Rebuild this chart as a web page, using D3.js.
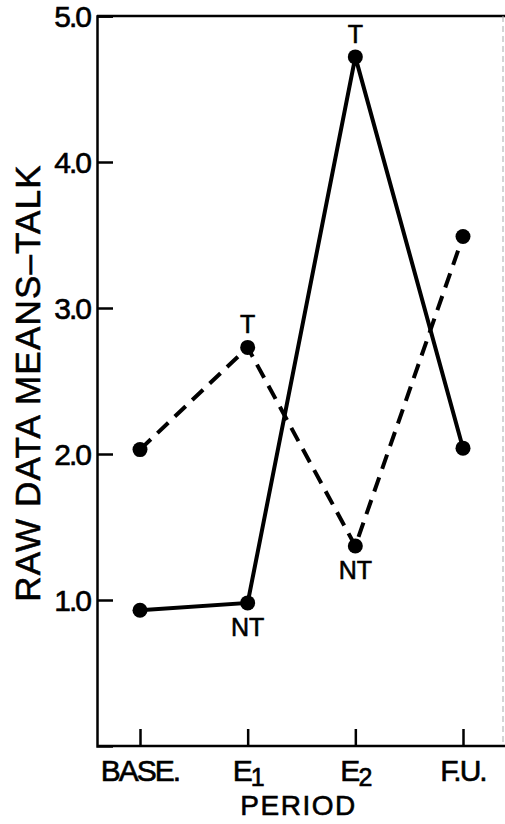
<!DOCTYPE html>
<html>
<head>
<meta charset="utf-8">
<script src="https://cdn.jsdelivr.net/npm/d3@7"></script>
<style>
  html, body { margin: 0; padding: 0; background: #fff; }
  svg { display: block; }
  text { font-family: 'Liberation Sans', Arial, sans-serif; fill: #000; stroke: #000; stroke-width: 0.6px; }
</style>
</head>
<body>
<div id="chart"></div>
<script>
// periods along the x axis
const periods = ['BASE.', 'E1', 'E2', 'F.U.']
// solid line
const solidValues = [0.93, 0.98, 4.72, 2.04]
// dashed line
const dashedValues = [2.03, 2.73, 1.37, 3.49]
const yTicks = [1, 2, 3, 4, 5]
// point annotations: series, period index, text, placement
const notes = [
  { series: 'dashed', i: 1, text: 'T', pos: 'above' },
  { series: 'solid', i: 1, text: 'NT', pos: 'below' },
  { series: 'solid', i: 2, text: 'T', pos: 'above' },
  { series: 'dashed', i: 2, text: 'NT', pos: 'below' },
]

const width = 505
const height = 824
const margin = { top: 16, right: 2, bottom: 78, left: 97 }

const svg = d3.select('#chart').append('svg')
  .attr('width', width)
  .attr('height', height)

const x = d3.scalePoint()
  .domain(periods)
  .range([margin.left + 43, margin.left + 366])

const y = d3.scaleLinear()
  .domain([0, 5])
  .range([height - margin.bottom, margin.top])

// frame
svg.append('line')
  .attr('x1', margin.left).attr('x2', width)
  .attr('y1', margin.top).attr('y2', margin.top)
  .attr('stroke', '#000').attr('stroke-width', 2.5)
svg.append('line')
  .attr('x1', width - margin.right).attr('x2', width - margin.right)
  .attr('y1', margin.top).attr('y2', height - margin.bottom)
  .attr('stroke', '#aaa').attr('stroke-width', 1).attr('stroke-dasharray', '6,4')

// y axis, ticks point into the plot
const yAxis = svg.append('g')
  .attr('transform', `translate(${margin.left},0)`)
  .call(d3.axisRight(y).tickValues(yTicks).tickSize(16).tickFormat(d3.format('.1f')))
yAxis.select('.domain').attr('stroke-width', 2.5)
yAxis.selectAll('.tick line').attr('stroke-width', 2.5)
yAxis.selectAll('.tick text')
  .attr('x', -7)
  .attr('text-anchor', 'end')
  .attr('dy', '0.36em')
  .style('font-size', '30px')
  .style('letter-spacing', '-2px')

// x axis, ticks point up into the plot
const xAxis = svg.append('g')
  .attr('transform', `translate(0,${height - margin.bottom})`)
  .call(d3.axisTop(x).tickSize(17).tickFormat(''))
xAxis.select('.domain').attr('d', `M${margin.left},0H${width}`).attr('stroke-width', 2.5)
xAxis.selectAll('.tick line').attr('stroke-width', 2.5)

const xl = svg.append('g')
  .selectAll('text')
  .data(periods)
  .join('text')
  .attr('x', (d) => x(d))
  .attr('y', height - margin.bottom + 35)
  .attr('text-anchor', 'middle')
  .style('font-size', '30px')
  .style('letter-spacing', '-2px')
xl.each(function (d) {
  const t = d3.select(this)
  if (d[0] === 'E') {
    t.append('tspan').text('E')
    t.append('tspan').attr('dy', 5).style('font-size', '25px').text(d.slice(1))
  } else {
    t.text(d)
  }
})

svg.append('text')
  .attr('x', x('E1') + (x('E2') - x('E1')) / 2 - 3)
  .attr('y', height - 9)
  .attr('text-anchor', 'middle')
  .style('font-size', '28px')
  .style('letter-spacing', '1.5px')
  .text('PERIOD')

svg.append('text')
  .attr('transform', `translate(40,383) rotate(-90)`)
  .attr('text-anchor', 'middle')
  .style('font-size', '35px')
  .style('letter-spacing', '1.2px')
  .text('RAW DATA MEANS–TALK')

// lines
const line = d3.line()
  .x((d, i) => x(periods[i]))
  .y((d) => y(d))

svg.append('path')
  .datum(dashedValues)
  .attr('d', line)
  .attr('fill', 'none')
  .attr('stroke', '#000')
  .attr('stroke-width', 4)
  .attr('stroke-dasharray', '15,9')

svg.append('path')
  .datum(solidValues)
  .attr('d', line)
  .attr('fill', 'none')
  .attr('stroke', '#000')
  .attr('stroke-width', 4)

const dots = [...solidValues, ...dashedValues].map((v, k) => ({ v, i: k % 4 }))
svg.append('g')
  .selectAll('circle')
  .data(dots)
  .join('circle')
  .attr('cx', (d) => x(periods[d.i]))
  .attr('cy', (d) => y(d.v))
  .attr('r', 7.5)
  .attr('fill', '#000')

svg.append('g')
  .selectAll('text')
  .data(notes)
  .join('text')
  .attr('x', (d) => x(periods[d.i]))
  .attr('y', (d) => {
    const v = d.series === 'solid' ? solidValues[d.i] : dashedValues[d.i]
    return y(v) + (d.pos === 'above' ? -14 : 33)
  })
  .attr('text-anchor', 'middle')
  .style('font-size', '25px')
  .text((d) => d.text)
</script>
</body>
</html>
